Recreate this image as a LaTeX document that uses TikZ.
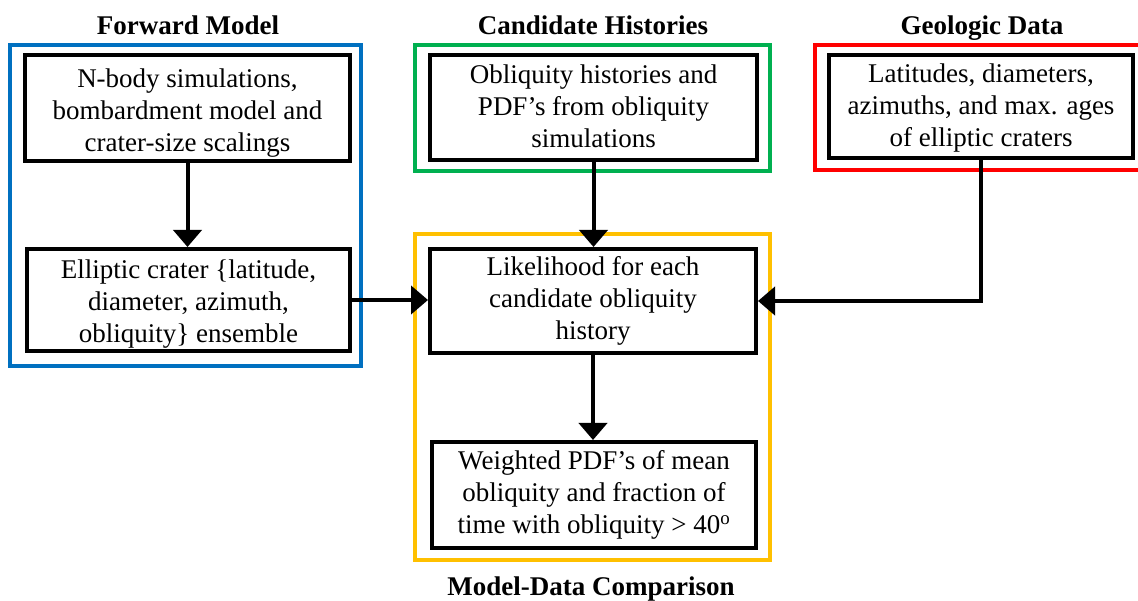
\documentclass[tikz,border=0pt]{standalone}
\usepackage{fontspec}
\setmainfont{Liberation Serif}
\usetikzlibrary{arrows.meta}
\definecolor{fwdblue}{RGB}{0,112,192}
\definecolor{candgreen}{RGB}{0,176,80}
\definecolor{geored}{RGB}{255,0,0}
\definecolor{cmporange}{RGB}{255,192,0}
\begin{document}
\begin{tikzpicture}[x=1pt,y=-1pt,
  txt/.style={font=\fontsize{27}{32}\selectfont},
  stepbox/.style={draw=black,line width=4pt,inner sep=0pt},
  boxtext/.style={txt,align=center,inner sep=0pt},
  frame/.style={line width=4pt},
  title/.style={font=\fontsize{27}{32}\selectfont\bfseries,inner sep=0pt,anchor=base},
  flow/.style={line width=4pt,-{Triangle[width=28pt,length=17pt]}},
]
\useasboundingbox (0,0) rectangle (1138,601);

% group frames
\draw[frame,fwdblue]   (10,45)  rectangle (361,366);
\draw[frame,candgreen] (415,45) rectangle (770,171);
\draw[frame,geored]    (815,45) rectangle (1142,170);
\draw[frame,cmporange] (415,234) rectangle (770,560);

% group titles
\node[title] (tfwd) at (188,35)  {Forward Model};
\node[title] (tcand) at (593,35) {Candidate Histories};
\node[title] (tgeo) at (982,35)  {Geologic Data};
\node[title] (tcmp) at (591,595) {Model-Data Comparison};

% process boxes
\node[stepbox,minimum width=325pt,minimum height=106pt] (nbody) at (187.5,108) {};
\node[boxtext] (nbodyt) at ([yshift=-5pt]nbody.center)
  {N-body simulations,\\bombardment model and\\crater-size scalings};
\node[stepbox,minimum width=323pt,minimum height=102pt] (ell) at (188.5,300) {};
\node[boxtext] (ellt) at ([yshift=-4pt]ell.center)
  {Elliptic crater \{latitude,\\diameter, azimuth,\\obliquity\} ensemble};
\node[stepbox,minimum width=327pt,minimum height=105pt] (obl) at (593.5,107.5) {};
\node[boxtext] (oblt) at ([yshift=1pt]obl.center)
  {Obliquity histories and\\PDF’s from obliquity\\simulations};
\node[stepbox,minimum width=304pt,minimum height=103pt] (lat) at (981,106.5) {};
\node[boxtext] (latt) at ([yshift=-2pt]lat.center)
  {Latitudes, diameters,\\azimuths, and max. ages\\of elliptic craters};
\node[stepbox,minimum width=326pt,minimum height=104pt] (lik) at (593,301) {};
\node[boxtext] (likt) at (lik.center)
  {Likelihood for each\\candidate obliquity\\history};
\node[stepbox,minimum width=324pt,minimum height=106pt] (wpdf) at (594,495) {};
\node[boxtext] (wpdft) at (wpdf.center)
  {Weighted PDF’s of mean\\obliquity and fraction of\\time with obliquity > 40\textsuperscript{o}};

% connectors
\draw[flow] (nbody.south) -- (nbody.south |- ell.north);
\draw[flow] (obl.south) -- (obl.south |- lik.north);
\draw[flow] (ell.east) -- (ell.east -| lik.west);
\draw[flow] (lat.south) |- (lik.east);
\draw[flow] (lik.south) -- (lik.south |- wpdf.north);
\end{tikzpicture}
\end{document}
